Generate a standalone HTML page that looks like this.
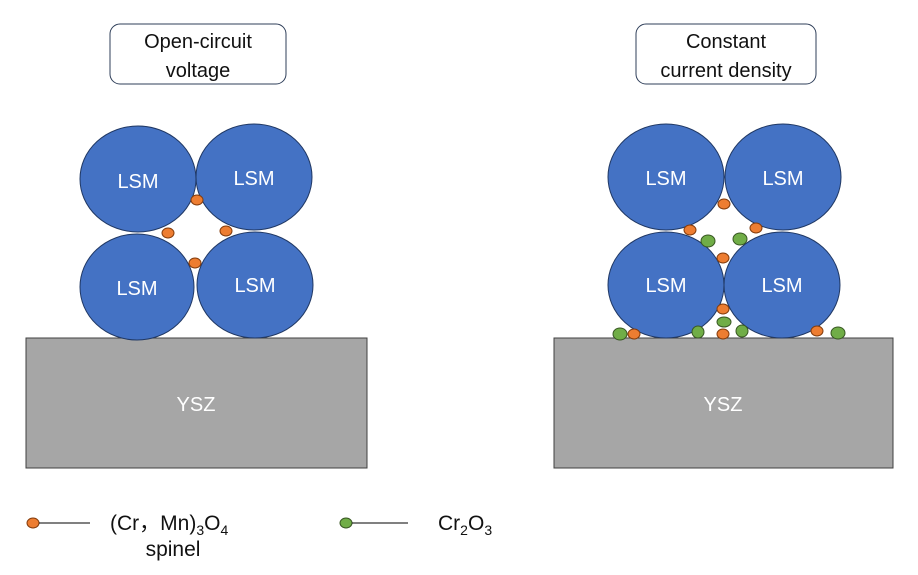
<!DOCTYPE html>
<html><head><meta charset="utf-8"><style>body{margin:0;background:#fff}svg{display:block}</style></head><body>
<svg width="918" height="575" viewBox="0 0 918 575" font-family="Liberation Sans, Noto Sans CJK SC, sans-serif">
<rect x="110" y="24" width="176" height="60" rx="10" fill="#fff" stroke="#2f3f5a" stroke-width="1"/>
<text x="198" y="48" font-size="20" text-anchor="middle" fill="#111">Open-circuit</text>
<text x="198" y="77" font-size="20" text-anchor="middle" fill="#111">voltage</text>
<rect x="636" y="24" width="180" height="60" rx="10" fill="#fff" stroke="#2f3f5a" stroke-width="1"/>
<text x="726" y="48" font-size="20" text-anchor="middle" fill="#111">Constant</text>
<text x="726" y="77" font-size="20" text-anchor="middle" fill="#111">current density</text>
<g fill="#a6a6a6" stroke="#404040" stroke-width="1">
<rect x="26" y="338" width="341" height="130"/><rect x="554" y="338" width="339" height="130"/></g>
<text x="196" y="411" font-size="20" text-anchor="middle" fill="#fff">YSZ</text>
<text x="723" y="411" font-size="20" text-anchor="middle" fill="#fff">YSZ</text>
<g fill="#4472c4" stroke="#203864" stroke-width="1">
<ellipse cx="138" cy="179" rx="58" ry="53"/><ellipse cx="254" cy="177" rx="58" ry="53"/>
<ellipse cx="137" cy="287" rx="57" ry="53"/><ellipse cx="255" cy="285" rx="58" ry="53"/>
<ellipse cx="666" cy="177" rx="58" ry="53"/><ellipse cx="783" cy="177" rx="58" ry="53"/>
<ellipse cx="666" cy="285" rx="58" ry="53"/><ellipse cx="782" cy="285" rx="58" ry="53"/></g>
<g font-size="20" text-anchor="middle" fill="#fff">
<text x="138" y="188">LSM</text><text x="254" y="185">LSM</text>
<text x="137" y="295">LSM</text><text x="255" y="292">LSM</text>
<text x="666" y="185">LSM</text><text x="783" y="185">LSM</text>
<text x="666" y="292">LSM</text><text x="782" y="292">LSM</text></g>
<g fill="#ed7d31" stroke="#843c0c" stroke-width="1">
<ellipse cx="197" cy="200" rx="6" ry="5"/><ellipse cx="168" cy="233" rx="6" ry="5"/>
<ellipse cx="226" cy="231" rx="6" ry="5"/><ellipse cx="195" cy="263" rx="6" ry="5"/>
<ellipse cx="724" cy="204" rx="6" ry="5"/><ellipse cx="690" cy="230" rx="6" ry="5"/>
<ellipse cx="756" cy="228" rx="6" ry="5"/><ellipse cx="723" cy="258" rx="6" ry="5"/>
<ellipse cx="723" cy="309" rx="6" ry="5"/><ellipse cx="634" cy="334" rx="6" ry="5"/>
<ellipse cx="723" cy="334" rx="6" ry="5"/><ellipse cx="817" cy="331" rx="6" ry="5"/>
<ellipse cx="33" cy="523" rx="6" ry="5"/></g>
<g fill="#70ad47" stroke="#385723" stroke-width="1">
<ellipse cx="708" cy="241" rx="7" ry="6"/><ellipse cx="740" cy="239" rx="7" ry="6"/>
<ellipse cx="724" cy="322" rx="7" ry="5"/><ellipse cx="620" cy="334" rx="7" ry="6"/>
<ellipse cx="698" cy="332" rx="6" ry="6"/><ellipse cx="742" cy="331" rx="6" ry="6"/>
<ellipse cx="838" cy="333" rx="7" ry="6"/><ellipse cx="346" cy="523" rx="6" ry="5"/></g>
<g stroke="#000" stroke-width="1"><line x1="39" y1="523" x2="90" y2="523"/><line x1="352" y1="523" x2="408" y2="523"/></g>
<text x="110" y="530" font-size="21" fill="#111">(Cr，Mn)<tspan font-size="14" dy="5">3</tspan><tspan dy="-5">O</tspan><tspan font-size="14" dy="5">4</tspan></text>
<text x="173" y="556" font-size="21" text-anchor="middle" fill="#111">spinel</text>
<text x="438" y="530" font-size="21" fill="#111">Cr<tspan font-size="14" dy="5">2</tspan><tspan dy="-5">O</tspan><tspan font-size="14" dy="5">3</tspan></text>
</svg>
</body></html>
